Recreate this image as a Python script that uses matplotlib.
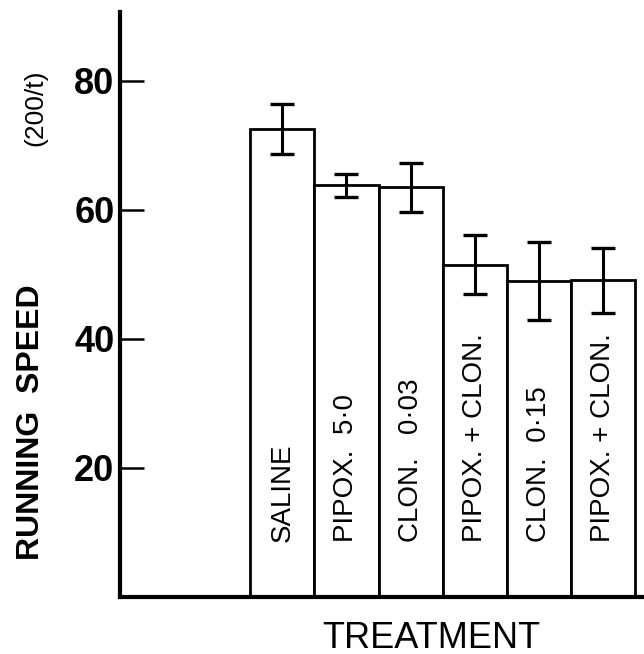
import matplotlib
matplotlib.use("Agg")
import matplotlib.pyplot as plt

categories = ["SALINE", "PIPOX.  5·0", "CLON.   0·03", "PIPOX. + CLON.", "CLON.  0·15", "PIPOX. + CLON."]
means = [72.6, 63.8, 63.5, 51.5, 49.0, 49.1]
errors = [3.9, 1.8, 3.8, 4.6, 6.1, 5.0]
yticks = [20, 40, 60, 80]

plt.rcParams['font.family'] = ['Liberation Sans', 'DejaVu Sans']

fig = plt.figure(figsize=(6.44, 6.54), dpi=100)
ax = fig.add_axes([0.1863, 0.0872, 0.83, 0.8945])

x = list(range(len(categories)))
ax.bar(x, means, width=1.0, align='edge', facecolor='white', edgecolor='black', linewidth=2.0, zorder=2)
ax.errorbar([xi + 0.5 for xi in x], means, yerr=errors, fmt='none', ecolor='black',
            elinewidth=2.2, capsize=8.5, capthick=2.4, zorder=3)

for xi, lab in zip(x, categories):
    ax.text(xi + 0.5, 8.5, lab, rotation=90, ha='center', va='bottom', fontsize=20, zorder=4)

ax.set_xlim(-2.03, 6.3)
ax.set_ylim(0, 90.7)
ax.set_xticks([])
ax.set_yticks(yticks)
ax.set_yticklabels([str(v) for v in yticks], fontsize=26, fontweight='bold')
ax.tick_params(axis='y', direction='in', length=17, width=1.8, pad=4)

for s in ['top', 'right']:
    ax.spines[s].set_visible(False)
for s in ['left', 'bottom']:
    ax.spines[s].set_linewidth(3.0)

fig.text(431 / 644, 1 - 638 / 654, "TREATMENT", ha='center', va='center', fontsize=26)
fig.text(0.048, 0.355, "RUNNING  SPEED", rotation=90, ha='center', va='center',
         fontsize=23, fontweight='bold')
fig.text(0.055, 0.835, "(200/t)", rotation=90, ha='center', va='center', fontsize=19)

fig.savefig("out.png", dpi=100)
